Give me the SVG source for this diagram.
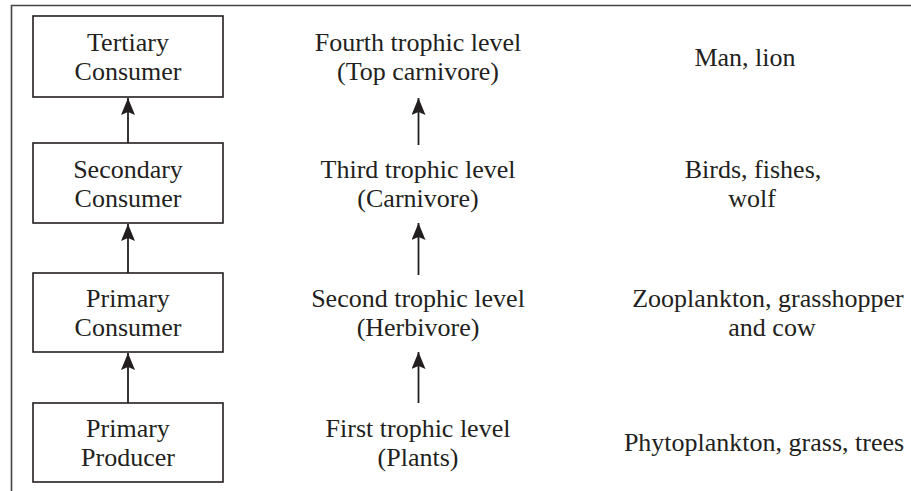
<svg xmlns="http://www.w3.org/2000/svg" width="911" height="491" viewBox="0 0 911 491">
<defs>
<style>
.t{font-family:"Liberation Serif","Times New Roman",serif;font-size:26px;fill:#231f20;text-anchor:middle}
.box{fill:#fff;stroke:#231f20;stroke-width:1.6}
.ln{stroke:#231f20;stroke-width:1.8;fill:none}
.frame{stroke:#444;stroke-width:1.6;fill:none}
</style>
<marker id="ah2" viewBox="0 0 17 14" refX="17" refY="7" markerWidth="17" markerHeight="14" markerUnits="userSpaceOnUse" orient="auto">
<path d="M0,0 L17,7 L0,14 L3,7 Z" fill="#231f20"/>
</marker>
</defs>
<polyline class="frame" points="11.5,491 11.5,5.5 911,5.5"/>
<g id="tertiary">
<rect class="box" x="33" y="16" width="190" height="81"/>
<text class="t" x="128" y="51">Tertiary</text>
<text class="t" x="128" y="80">Consumer</text>
</g>
<g id="secondary">
<rect class="box" x="33" y="143" width="190" height="80"/>
<text class="t" x="128" y="177.5">Secondary</text>
<text class="t" x="128" y="206.5">Consumer</text>
</g>
<g id="primary">
<rect class="box" x="33" y="273" width="190" height="79"/>
<text class="t" x="128" y="307">Primary</text>
<text class="t" x="128" y="336">Consumer</text>
</g>
<g id="producer">
<rect class="box" x="33" y="403" width="190" height="79"/>
<text class="t" x="128" y="437">Primary</text>
<text class="t" x="128" y="466">Producer</text>
</g>
<g id="level4">
<text class="t" x="418" y="51">Fourth trophic level</text>
<text class="t" x="418" y="80">(Top carnivore)</text>
</g>
<g id="level3">
<text class="t" x="418" y="177.5">Third trophic level</text>
<text class="t" x="418" y="206.5">(Carnivore)</text>
</g>
<g id="level2">
<text class="t" x="418" y="307">Second trophic level</text>
<text class="t" x="418" y="336">(Herbivore)</text>
</g>
<g id="level1">
<text class="t" x="418" y="437">First trophic level</text>
<text class="t" x="418" y="466">(Plants)</text>
</g>
<g id="ex4">
<text class="t" x="745" y="66">Man, lion</text>
</g>
<g id="ex3">
<text class="t" x="753" y="177.5">Birds, fishes,</text>
<text class="t" x="752" y="206.5">wolf</text>
</g>
<g id="ex2">
<text class="t" x="768" y="307">Zooplankton, grasshopper</text>
<text class="t" x="772" y="336">and cow</text>
</g>
<g id="ex1">
<text class="t" x="764" y="451">Phytoplankton, grass, trees</text>
</g>
<g id="connectors">
<line class="ln" x1="128" y1="143" x2="128" y2="98" marker-end="url(#ah2)"/>
<line class="ln" x1="128" y1="273" x2="128" y2="224" marker-end="url(#ah2)"/>
<line class="ln" x1="128" y1="403" x2="128" y2="353" marker-end="url(#ah2)"/>
<line class="ln" x1="418.5" y1="145" x2="418.5" y2="98" marker-end="url(#ah2)"/>
<line class="ln" x1="418.5" y1="275" x2="418.5" y2="223" marker-end="url(#ah2)"/>
<line class="ln" x1="418.5" y1="403" x2="418.5" y2="352" marker-end="url(#ah2)"/>
</g>
</svg>
